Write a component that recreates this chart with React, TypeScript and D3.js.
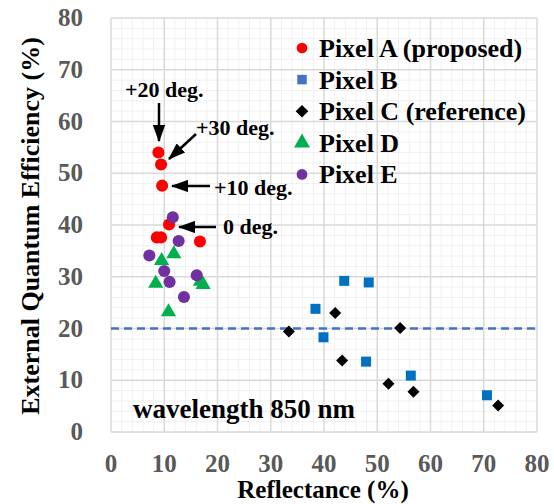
import React, { useEffect, useRef } from "react";
import * as d3 from "d3";

// Reflectance (%) / EQE (%)
const pixelA = [
  [8.9, 54.0], [9.4, 51.7], [9.6, 47.6], [10.9, 40.1],
  [8.6, 37.6], [9.4, 37.6], [16.7, 36.8],
];
const pixelB = [
  [43.8, 29.2], [48.4, 28.9], [38.4, 23.8], [39.9, 18.3],
  [47.9, 13.6], [56.3, 10.9], [70.6, 7.1],
];
const pixelC = [
  [33.4, 19.4], [42.1, 23.0], [54.3, 20.1], [43.4, 13.8],
  [52.1, 9.3], [56.8, 7.8], [72.7, 5.1],
];
const pixelD = [
  [11.8, 34.4], [9.5, 33.1], [8.4, 28.7], [16.8, 29.1],
  [17.3, 28.5], [10.8, 23.2],
];
const pixelE = [
  [11.6, 41.5], [12.7, 36.9], [7.2, 34.1], [10.0, 31.1],
  [11.0, 29.0], [16.1, 30.3], [13.7, 26.1],
];
const legendNames = ["Pixel A (proposed)", "Pixel B", "Pixel C (reference)", "Pixel D", "Pixel E"];
const xTicks = [0, 10, 20, 30, 40, 50, 60, 70, 80];
const yTicks = [0, 10, 20, 30, 40, 50, 60, 70, 80];
const threshold = 20;

const W = 554, H = 504;
const M = { left: 111, right: 537, top: 18, bottom: 432 };
const font = "Liberation Serif, Times New Roman, Tinos, DejaVu Serif, serif";

export default function App() {
  const ref = useRef<SVGSVGElement>(null);

  useEffect(() => {
    const svg = d3.select(ref.current);
    svg.selectAll("*").remove();

    const x = d3.scaleLinear().domain([0, 80]).range([M.left, M.right]);
    const y = d3.scaleLinear().domain([0, 80]).range([M.bottom, M.top]);

    svg.append("rect").attr("width", W).attr("height", H).attr("fill", "#fff");

    // minor grid
    const minor = d3.range(0, 81, 2).filter(v => v % 10 !== 0);
    const g = svg.append("g");
    g.selectAll(".mx").data(minor).enter().append("line")
      .attr("x1", d => x(d)).attr("x2", d => x(d))
      .attr("y1", M.top).attr("y2", M.bottom)
      .attr("stroke", "#f0f0f0").attr("stroke-width", 1);
    g.selectAll(".my").data(minor).enter().append("line")
      .attr("y1", d => y(d)).attr("y2", d => y(d))
      .attr("x1", M.left).attr("x2", M.right)
      .attr("stroke", "#f0f0f0").attr("stroke-width", 1);
    // major grid
    g.selectAll(".Mx").data(xTicks).enter().append("line")
      .attr("x1", d => x(d)).attr("x2", d => x(d))
      .attr("y1", M.top).attr("y2", M.bottom)
      .attr("stroke", "#d9d9d9").attr("stroke-width", 1.5);
    g.selectAll(".My").data(yTicks).enter().append("line")
      .attr("y1", d => y(d)).attr("y2", d => y(d))
      .attr("x1", M.left).attr("x2", M.right)
      .attr("stroke", "#d9d9d9").attr("stroke-width", 1.5);

    // tick labels
    svg.selectAll(".xt").data(xTicks).enter().append("text")
      .attr("x", d => x(d)).attr("y", 472)
      .attr("text-anchor", "middle")
      .style("font-family", font).attr("font-weight", "bold").attr("font-size", 25)
      .attr("fill", "#595959").text(d => d);
    svg.selectAll(".yt").data(yTicks).enter().append("text")
      .attr("x", 83).attr("y", d => y(d) + 8)
      .attr("text-anchor", "end")
      .style("font-family", font).attr("font-weight", "bold").attr("font-size", 25)
      .attr("fill", "#595959").text(d => d);

    // axis titles
    svg.append("text")
      .attr("x", 323).attr("y", 498)
      .attr("text-anchor", "middle")
      .style("font-family", font).attr("font-weight", "bold").attr("font-size", 25)
      .text("Reflectance (%)");
    svg.append("text")
      .attr("transform", "translate(39,226) rotate(-90)")
      .attr("text-anchor", "middle")
      .style("font-family", font).attr("font-weight", "bold").attr("font-size", 26)
      .text("External Quantum Efficiency (%)");

    // threshold line
    svg.append("line")
      .attr("x1", M.left).attr("x2", M.right)
      .attr("y1", y(threshold)).attr("y2", y(threshold))
      .attr("stroke", "#4472c4").attr("stroke-width", 2.5)
      .attr("stroke-dasharray", "8,5");

    const sym = (type: d3.SymbolType, size: number) => d3.symbol().type(type).size(size)();

    const series = [
      { data: pixelA, color: "#ff0000", path: sym(d3.symbolCircle, 115), rot: 0 },
      { data: pixelB, color: "#0070c0", path: sym(d3.symbolSquare, 100), rot: 0 },
      { data: pixelC, color: "#000000", path: sym(d3.symbolSquare, 72), rot: 45 },
      { data: pixelD, color: "#00b050", path: sym(d3.symbolTriangle, 100), rot: 0 },
      { data: pixelE, color: "#7030a0", path: sym(d3.symbolCircle, 115), rot: 0 },
    ];
    const drawOrder = [1, 2, 0, 3, 4];
    drawOrder.forEach(i => {
      const s = series[i];
      svg.append("g").selectAll("path").data(s.data).enter().append("path")
        .attr("d", s.path)
        .attr("transform", d => `translate(${x(d[0])},${y(d[1])}) rotate(${s.rot})`)
        .attr("fill", s.color);
    });

    // legend
    const legendColors = ["#ff0000", "#4472c4", "#000000", "#00b050", "#7030a0"];
    const legendPaths = [
      sym(d3.symbolCircle, 90), sym(d3.symbolSquare, 90), sym(d3.symbolSquare, 80),
      sym(d3.symbolTriangle, 110), sym(d3.symbolCircle, 90),
    ];
    legendNames.forEach((name, i) => {
      const ly = 48 + i * 31.6;
      svg.append("path").attr("d", legendPaths[i])
        .attr("transform", `translate(302,${ly}) rotate(${i === 2 ? 45 : 0})`)
        .attr("fill", legendColors[i]);
      svg.append("text")
        .attr("x", 319).attr("y", ly + 9)
        .style("font-family", font).attr("font-weight", "bold").attr("font-size", 26)
        .text(name);
    });

    // annotations
    const defs = svg.append("defs");
    defs.append("marker").attr("id", "ah")
      .attr("viewBox", "0 0 14 10").attr("refX", 13).attr("refY", 5)
      .attr("markerWidth", 7).attr("markerHeight", 5)
      .attr("markerUnits", "strokeWidth")
      .attr("orient", "auto")
      .append("path").attr("d", "M0,0 L14,5 L0,10 Z").attr("fill", "#000");

    const notes = [
      { t: "+20 deg.", tx: 125, ty: 97, x1: 159, y1: 103, x2: 159, y2: 141 },
      { t: "+30 deg.", tx: 196, ty: 135, x1: 196, y1: 134, x2: 169, y2: 159 },
      { t: "+10 deg.", tx: 214, ty: 195, x1: 210, y1: 186, x2: 172, y2: 186 },
      { t: "0 deg.", tx: 223, ty: 234, x1: 216, y1: 227, x2: 179, y2: 227 },
    ];
    notes.forEach(n => {
      svg.append("text").attr("x", n.tx).attr("y", n.ty)
        .style("font-family", font).attr("font-weight", "bold").attr("font-size", 22)
        .text(n.t);
      svg.append("line")
        .attr("x1", n.x1).attr("y1", n.y1).attr("x2", n.x2).attr("y2", n.y2)
        .attr("stroke", "#000").attr("stroke-width", 2.5)
        .attr("marker-end", "url(#ah)");
    });

    svg.append("text").attr("x", 133).attr("y", 418)
      .style("font-family", font).attr("font-weight", "bold").attr("font-size", 27)
      .text("wavelength 850 nm");
  }, []);

  return (
    <svg ref={ref} width={W} height={H}
      style={{ position: "absolute", left: 0, top: 0 }} />
  );
}
